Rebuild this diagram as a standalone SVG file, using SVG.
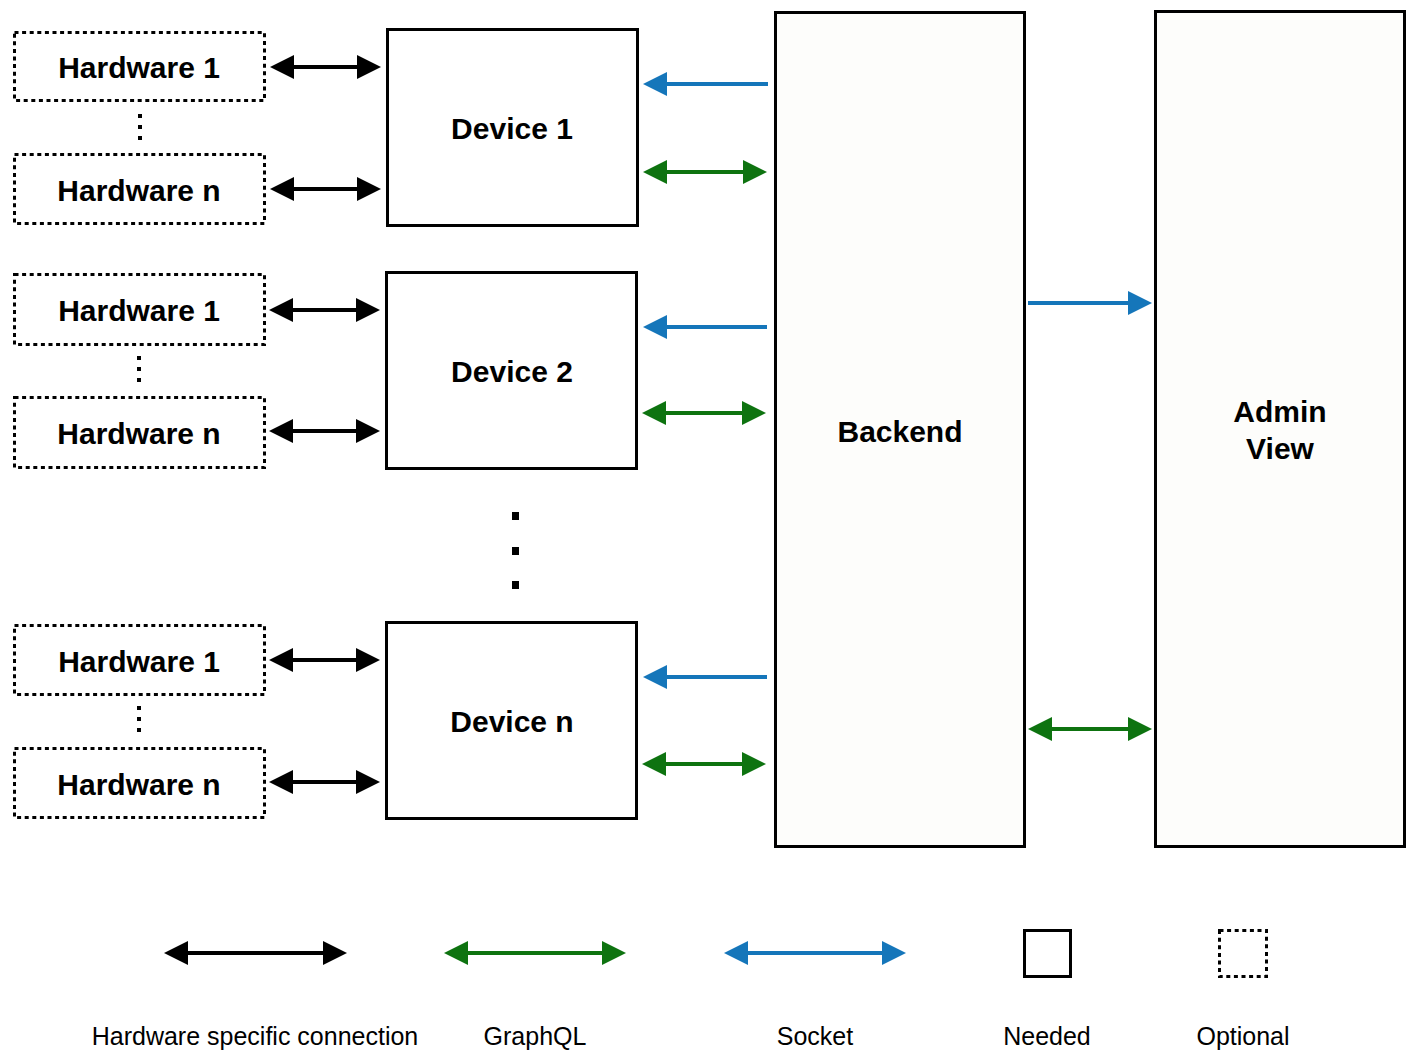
<svg xmlns="http://www.w3.org/2000/svg" width="1422" height="1064" viewBox="0 0 1422 1064">
<style>
  .solid { fill: #ffffff; stroke: #000000; stroke-width: 3; }
  .big { fill: #FDFDFB; stroke: #000000; stroke-width: 3; }
  .dashed { fill: #ffffff; stroke: #000000; stroke-width: 3; stroke-dasharray: 4 3.6; }
  .lbl { font-family: "Liberation Sans", Arial, sans-serif; font-size: 30px; font-weight: bold; fill: #000000; text-anchor: middle; }
  .leg { font-family: "Liberation Sans", Arial, sans-serif; font-size: 25px; fill: #000000; text-anchor: middle; }
  .hw { stroke: #000000; stroke-width: 4; fill: none; }
  .gq { stroke: #0E7310; stroke-width: 4; fill: none; }
  .sk { stroke: #1576BA; stroke-width: 4; fill: none; }
  .vdots { stroke: #000000; stroke-width: 4; stroke-dasharray: 4 7; fill: none; }
</style>
<defs>
  <marker id="ahBlack" markerUnits="userSpaceOnUse" markerWidth="24" markerHeight="24" viewBox="0 0 24 24" refX="2" refY="12" orient="auto-start-reverse">
    <path d="M0,0 L24,12 L0,24 Z" fill="#000000"/>
  </marker>
  <marker id="ahGreen" markerUnits="userSpaceOnUse" markerWidth="24" markerHeight="24" viewBox="0 0 24 24" refX="2" refY="12" orient="auto-start-reverse">
    <path d="M0,0 L24,12 L0,24 Z" fill="#0E7310"/>
  </marker>
  <marker id="ahBlue" markerUnits="userSpaceOnUse" markerWidth="24" markerHeight="24" viewBox="0 0 24 24" refX="2" refY="12" orient="auto-start-reverse">
    <path d="M0,0 L24,12 L0,24 Z" fill="#1576BA"/>
  </marker>
</defs>
<rect width="1422" height="1064" fill="#ffffff"/>

<!-- Group 1 -->
<g id="hw1-1"><rect class="dashed" x="14.5" y="32.5" width="250" height="68"/><text class="lbl" x="139" y="78">Hardware 1</text></g>
<g id="hwn-1"><rect class="dashed" x="14.5" y="154.5" width="250" height="69"/><text class="lbl" x="139" y="201">Hardware n</text></g>
<g id="device1"><rect class="solid" x="387.5" y="29.5" width="250" height="196"/><text class="lbl" x="512" y="139">Device 1</text></g>

<!-- Group 2 -->
<g id="hw1-2"><rect class="dashed" x="14.5" y="274.5" width="250" height="70"/><text class="lbl" x="139" y="321">Hardware 1</text></g>
<g id="hwn-2"><rect class="dashed" x="14.5" y="397.5" width="250" height="70"/><text class="lbl" x="139" y="444">Hardware n</text></g>
<g id="device2"><rect class="solid" x="386.5" y="272.5" width="250" height="196"/><text class="lbl" x="512" y="382">Device 2</text></g>

<!-- Group 3 -->
<g id="hw1-3"><rect class="dashed" x="14.5" y="625.5" width="250" height="69"/><text class="lbl" x="139" y="672">Hardware 1</text></g>
<g id="hwn-3"><rect class="dashed" x="14.5" y="748.5" width="250" height="69"/><text class="lbl" x="139" y="795">Hardware n</text></g>
<g id="devicen"><rect class="solid" x="386.5" y="622.5" width="250" height="196"/><text class="lbl" x="512" y="732">Device n</text></g>

<g id="backend"><rect class="big" x="775.5" y="12.5" width="249" height="834"/><text class="lbl" x="900" y="442">Backend</text></g>
<g id="admin"><rect class="big" x="1155.5" y="11.5" width="249" height="835"/><text class="lbl" x="1280" y="422">Admin</text><text class="lbl" x="1280" y="459">View</text></g>

<!-- ellipsis dots -->
<g id="ellipses">
  <line class="vdots" x1="140" y1="114" x2="140" y2="141"/>
  <line class="vdots" x1="139" y1="356" x2="139" y2="383"/>
  <line class="vdots" x1="139" y1="706" x2="139" y2="733"/>
  <rect x="512" y="512" width="7" height="8" fill="#000000"/>
  <rect x="512" y="547" width="7" height="8" fill="#000000"/>
  <rect x="512" y="581" width="7" height="8" fill="#000000"/>
</g>

<g id="connectors">
  <line class="hw" x1="292" y1="67" x2="359" y2="67" marker-start="url(#ahBlack)" marker-end="url(#ahBlack)"/>
  <line class="hw" x1="292" y1="189" x2="359" y2="189" marker-start="url(#ahBlack)" marker-end="url(#ahBlack)"/>
  <line class="hw" x1="291" y1="310" x2="358" y2="310" marker-start="url(#ahBlack)" marker-end="url(#ahBlack)"/>
  <line class="hw" x1="291" y1="431" x2="358" y2="431" marker-start="url(#ahBlack)" marker-end="url(#ahBlack)"/>
  <line class="hw" x1="291" y1="660" x2="358" y2="660" marker-start="url(#ahBlack)" marker-end="url(#ahBlack)"/>
  <line class="hw" x1="291" y1="782" x2="358" y2="782" marker-start="url(#ahBlack)" marker-end="url(#ahBlack)"/>

  <line class="sk" x1="768" y1="84" x2="665" y2="84" marker-end="url(#ahBlue)"/>
  <line class="gq" x1="665" y1="172" x2="745" y2="172" marker-start="url(#ahGreen)" marker-end="url(#ahGreen)"/>
  <line class="sk" x1="767" y1="327" x2="665" y2="327" marker-end="url(#ahBlue)"/>
  <line class="gq" x1="664" y1="413" x2="744" y2="413" marker-start="url(#ahGreen)" marker-end="url(#ahGreen)"/>
  <line class="sk" x1="767" y1="677" x2="665" y2="677" marker-end="url(#ahBlue)"/>
  <line class="gq" x1="664" y1="764" x2="744" y2="764" marker-start="url(#ahGreen)" marker-end="url(#ahGreen)"/>

  <line class="sk" x1="1028" y1="303" x2="1130" y2="303" marker-end="url(#ahBlue)"/>
  <line class="gq" x1="1050" y1="729" x2="1130" y2="729" marker-start="url(#ahGreen)" marker-end="url(#ahGreen)"/>
</g>

<g id="legend">
  <line class="hw" x1="186" y1="953" x2="325" y2="953" marker-start="url(#ahBlack)" marker-end="url(#ahBlack)"/>
  <line class="gq" x1="466" y1="953" x2="604" y2="953" marker-start="url(#ahGreen)" marker-end="url(#ahGreen)"/>
  <line class="sk" x1="746" y1="953" x2="884" y2="953" marker-start="url(#ahBlue)" marker-end="url(#ahBlue)"/>
  <rect class="solid" x="1024.5" y="930.5" width="46" height="46"/>
  <rect class="dashed" x="1219.5" y="930.5" width="47" height="46"/>
  <text class="leg" x="255" y="1045">Hardware specific connection</text>
  <text class="leg" x="535" y="1045">GraphQL</text>
  <text class="leg" x="815" y="1045">Socket</text>
  <text class="leg" x="1047" y="1045">Needed</text>
  <text class="leg" x="1243" y="1045">Optional</text>
</g>
</svg>
